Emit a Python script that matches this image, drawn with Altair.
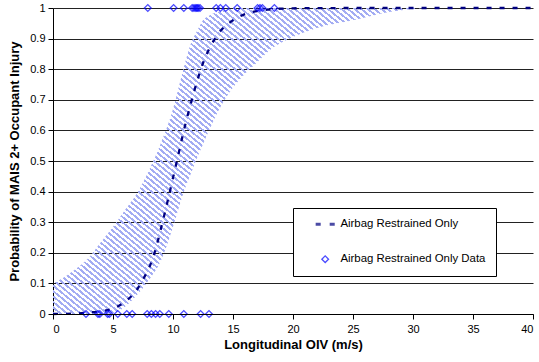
import altair as alt
import pandas as pd

# Fitted probability of MAIS 2+ injury vs longitudinal OIV
curve_x = [0, 2, 3, 4, 5, 6, 7, 7.5, 8, 8.5, 9, 9.5, 10, 10.5, 11, 11.5, 12, 12.5,
           13, 13.5, 14, 15, 16, 17, 18, 20, 25, 30, 40]
curve_p = [0, 0.002, 0.005, 0.009, 0.018, 0.04, 0.08, 0.113, 0.15, 0.205, 0.28, 0.36,
           0.445, 0.53, 0.615, 0.69, 0.76, 0.82, 0.865, 0.9, 0.927, 0.96, 0.98, 0.99,
           0.995, 0.999, 1, 1, 1]

# Confidence band around the fitted curve
band_x = [0, 1, 2, 3, 4, 5, 6, 7, 8, 9, 10, 10.5, 11, 11.5, 12, 12.5, 13, 14, 15, 16,
          17, 18, 20, 22, 25, 28, 31]
band_lo = [0, 0, 0, 0, 0, 0.003, 0.024, 0.062, 0.112, 0.175, 0.285, 0.35, 0.41, 0.46,
           0.51, 0.555, 0.6, 0.68, 0.74, 0.785, 0.822, 0.86, 0.905, 0.935, 0.96, 0.987, 1]
band_hi = [0.1, 0.122, 0.15, 0.185, 0.235, 0.285, 0.34, 0.395, 0.47, 0.56, 0.67, 0.745,
           0.82, 0.885, 0.925, 0.96, 0.975, 0.99, 1, 1, 1, 1, 1, 1, 1, 1, 1]

# Observed cases: injured (1) and not injured (0)
injured_oiv = [7.9, 10.05, 10.9, 11.6, 11.75, 11.9, 12.0, 12.1, 12.25, 13.6, 13.95,
               14.4, 15.35, 17.05, 17.25, 17.45, 18.45]
uninjured_oiv = [2.75, 3.75, 3.9, 4.55, 4.7, 5.4, 6.15, 6.6, 7.85, 8.2, 8.55, 8.9,
                 9.65, 10.9, 12.3, 13.0]

x_ticks = [0, 5, 10, 15, 20, 25, 30, 35, 40]
y_ticks = [0, 0.1, 0.2, 0.3, 0.4, 0.5, 0.6, 0.7, 0.8, 0.9, 1]

LAB_FIT = "Airbag Restrained Only"
LAB_DATA = "Airbag Restrained Only Data"
FONT = "Liberation Sans"

curve_df = pd.DataFrame({"oiv": curve_x, "p": curve_p})
band_df = pd.DataFrame({"oiv": band_x, "lo": band_lo, "hi": band_hi})
pts_df = pd.DataFrame({
    "oiv": injured_oiv + uninjured_oiv,
    "p": [1] * len(injured_oiv) + [0] * len(uninjured_oiv),
    "series": [LAB_DATA] * (len(injured_oiv) + len(uninjured_oiv)),
})

# Diagonal hatching for the band, built as a hard-stop linear gradient
n_stripes = 112
stripe = "#a3acf3"
clear = "rgba(255,255,255,0)"
stops = []
for i in range(n_stripes):
    a, b, c = i / n_stripes, (i + 0.45) / n_stripes, (i + 1) / n_stripes
    stops += [
        alt.GradientStop(offset=a, color=stripe),
        alt.GradientStop(offset=b, color=stripe),
        alt.GradientStop(offset=b, color=clear),
        alt.GradientStop(offset=c, color=clear),
    ]
hatch = alt.LinearGradient(gradient="linear", stops=stops, x1=0, y1=1, x2=1, y2=0)

x_axis = alt.Axis(values=x_ticks, title="Longitudinal OIV (m/s)", grid=False, zindex=1)
x_scale = alt.Scale(domain=[0, 40], nice=False)
y_axis = alt.Axis(values=y_ticks, format=".1~f", grid=True,
                  title="Probability of MAIS 2+ Occupant Injury")
y_scale = alt.Scale(domain=[0, 1], nice=False)

band = alt.Chart(band_df).mark_area(fill=hatch, interpolate="monotone").encode(
    x=alt.X("oiv:Q", scale=x_scale, axis=x_axis),
    y=alt.Y("lo:Q", scale=y_scale, axis=y_axis),
    y2="hi:Q",
)

curve = alt.Chart(curve_df).mark_line(
    color="#000080", strokeWidth=2.3, strokeDash=[5, 8], interpolate="monotone"
).encode(
    x=alt.X("oiv:Q", scale=x_scale, axis=x_axis),
    y=alt.Y("p:Q", scale=y_scale, axis=y_axis),
)

dom = [LAB_FIT, LAB_DATA]
dash_symbol = "M-2.84,0H-1.34M1.34,0H2.84"
points = alt.Chart(pts_df).mark_point(filled=False, size=45, clip=False).encode(
    x=alt.X("oiv:Q", scale=x_scale, axis=x_axis),
    y=alt.Y("p:Q", scale=y_scale, axis=y_axis),
    color=alt.Color("series:N", scale=alt.Scale(domain=dom, range=["#000080", "#0000ff"]),
                    legend=alt.Legend(title=None)),
    shape=alt.Shape("series:N", scale=alt.Scale(domain=dom, range=[dash_symbol, "diamond"]),
                    legend=alt.Legend(title=None)),
    strokeWidth=alt.StrokeWidth("series:N", scale=alt.Scale(domain=dom, range=[3, 1.3]),
                                legend=alt.Legend(title=None)),
)

chart = (
    alt.layer(band, curve, points)
    .properties(
        width=480,
        height=306,
        autosize=alt.AutoSizeParams(type="none"),
        padding={"left": 53, "top": 8, "right": 6, "bottom": 48},
        background="white",
    )
    .configure_view(stroke=None)
    .configure_axis(
        labelFont=FONT, labelFontSize=11, labelColor="black",
        titleFont=FONT, titleFontSize=13, titleFontWeight="bold", titleColor="black",
        domainColor="black", domainWidth=1, tickColor="black", tickSize=5,
        gridColor="#222222", gridWidth=1, labelOverlap=False,
    )
    .configure_axisX(labelPadding=4, titlePadding=4)
    .configure_axisY(labelPadding=3, titlePadding=8)
    .configure_legend(
        orient="none", legendX=240, legendY=200,
        fillColor="white", strokeColor="black", padding=10.5,
        rowPadding=22, symbolOffset=16, labelOffset=9.5, symbolSize=45,
        labelFont=FONT, labelFontSize=11.4, labelColor="black",
    )
)

chart.save("out.html", embed_options={"renderer": "svg", "actions": False})
